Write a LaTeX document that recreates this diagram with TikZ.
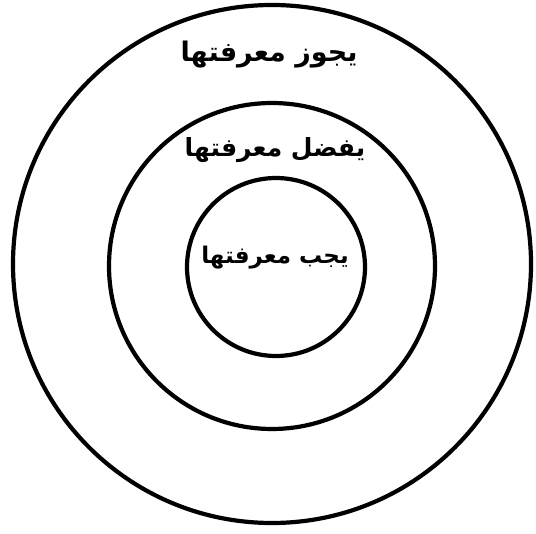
\documentclass[tikz,border=0pt]{standalone}
\usepackage{fontspec}
\newfontfamily\arabicfont[Script=Arabic]{DejaVu Sans}
\TeXXeTstate=1
\tikzset{
  ring/.style={draw=black, line width=4.2pt},
  lbl/.style={font=\arabicfont\bfseries, inner sep=0pt}
}
\begin{document}
\begin{tikzpicture}[x=1pt,y=-1pt]
\useasboundingbox (0,0) rectangle (536,534);
\fill[white] (0,0) rectangle (536,534);
\coordinate (c1) at (272,264);
\coordinate (c2) at (272,266);
\coordinate (c3) at (276,267);
\draw[ring] (c1) circle[radius=259];
\draw[ring] (c2) circle[radius=163];
\draw[ring] (c3) circle[radius=89];
\node[lbl, font=\arabicfont\bfseries\fontsize{27}{32}\selectfont] (outer) at (269,55) {\beginR يجوز معرفتها\endR};
\node[lbl, font=\arabicfont\bfseries\fontsize{25}{30}\selectfont] (middle) at (275,150) {\beginR يفضل معرفتها\endR};
\node[lbl, font=\arabicfont\bfseries\fontsize{23}{28}\selectfont] (inner) at (275,258) {\beginR يجب معرفتها\endR};
\end{tikzpicture}
\end{document}
